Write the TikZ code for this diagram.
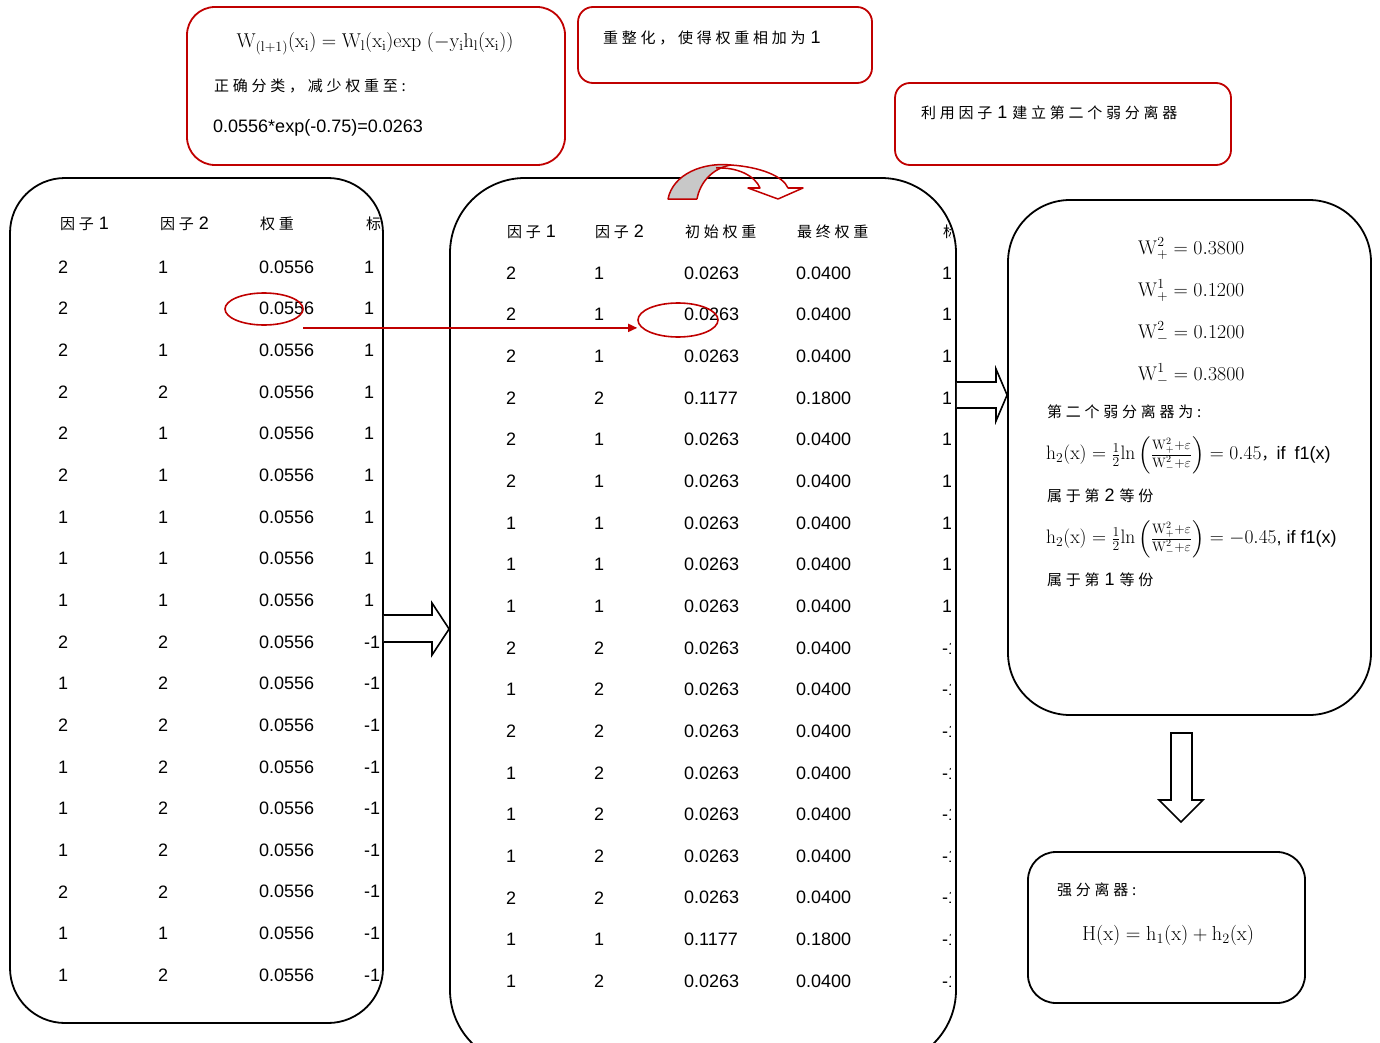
\RequirePackage{fix-cm}
\documentclass[tikz,border=0pt]{standalone}
\usepackage{amsmath}
\usepackage[no-math]{fontspec}
\setmainfont{Liberation Sans}
\newfontfamily\cjk[LetterSpace=25]{Noto Sans CJK SC}
\usetikzlibrary{shapes.geometric,arrows.meta,calc}
\definecolor{boxred}{RGB}{192,0,0}
\definecolor{crescent}{RGB}{200,200,200}
\tikzset{
  blackbox/.style={draw=black, line width=1.8pt, inner sep=0pt},
  redbox/.style={draw=boxred, line width=1.8pt, inner sep=0pt},
  cell/.style={anchor=west, inner sep=0pt},
  label/.style={anchor=west, inner sep=0pt},
  blockarrow/.style={draw=black, line width=1.6pt, fill=white},
  marker/.style={ellipse, draw=boxred, line width=1.6pt, inner sep=0pt},
  cn/.style={font=\fontsize{15}{18}\selectfont\cjk},
}
\newcommand{\rmm}[1]{\mathrm{#1}}
\newcommand{\zh}[1]{{\fontsize{15}{18}\selectfont\cjk #1}}
\newcommand{\hfrac}{\rmm{h}_2(\rmm{x}) = \tfrac{1}{2}\rmm{ln}\left(\tfrac{\rmm{W}^2_+ +\varepsilon}{\rmm{W}^2_- +\varepsilon}\right)}
\begin{document}
\begin{tikzpicture}[x=1pt, y=-1pt, font=\fontsize{18}{21}\selectfont]
\useasboundingbox (0,0) rectangle (1380,1043);
\clip (0,0) rectangle (1380,1043);

% ---- red note boxes along the top ----
\node[redbox, rounded corners=28pt, minimum width=378pt, minimum height=158pt] (noteA) at (376,86) {};
\node[anchor=center, inner sep=0pt, font=\fontsize{20}{24}\selectfont] (upd) at (375,44)
  {$\rmm{W}_{(\rmm{l}+1)}(\rmm{x}_\rmm{i}) = \rmm{W}_\rmm{l}(\rmm{x}_\rmm{i})\rmm{exp}\ (-\rmm{y}_\rmm{i}\rmm{h}_\rmm{l}(\rmm{x}_\rmm{i}))$};
\node[label, cn] (noteA2) at (214,86) {正确分类，减少权重至:};
\node[label] (noteA3) at (213,128) {0.0556*exp(-0.75)=0.0263};

\node[redbox, rounded corners=15pt, minimum width=294pt, minimum height=76pt] (noteB) at (725,45) {};
\node[label] (noteB1) at (603,38) {\zh{重整化，使得权重相加为} 1};

\node[redbox, rounded corners=15pt, minimum width=336pt, minimum height=82pt] (noteC) at (1063,124) {};
\node[label] (noteC1) at (921,113) {\zh{利用因子} 1 \zh{建立第二个弱分离器}};

% ---- left table: initial weights ----
\begin{scope}
  \clip (0,150) rectangle (382,1043);
  \node[cell] (lh1) at (60,224) {\zh{因子} 1};
  \node[cell] (lh2) at (160,224) {\zh{因子} 2};
  \node[cell, cn] (lh3) at (260,224) {权重};
  \node[cell, cn] (lh4) at (366,224) {标签};
  \foreach \a/\b/\c/\d [count=\i from 0] in {
    2/1/0.0556/1, 2/1/0.0556/1, 2/1/0.0556/1, 2/2/0.0556/1, 2/1/0.0556/1,
    2/1/0.0556/1, 1/1/0.0556/1, 1/1/0.0556/1, 1/1/0.0556/1, 2/2/0.0556/-1,
    1/2/0.0556/-1, 2/2/0.0556/-1, 1/2/0.0556/-1, 1/2/0.0556/-1, 1/2/0.0556/-1,
    2/2/0.0556/-1, 1/1/0.0556/-1, 1/2/0.0556/-1} {
    \pgfmathsetmacro{\yy}{267+41.65*\i}
    \node[cell] (la\i) at (58,\yy) {\a};
    \node[cell] (lb\i) at (158,\yy) {\b};
    \node[cell] (lc\i) at (259,\yy) {\c};
    \node[cell] (ld\i) at (364,\yy) {\d};
  }
\end{scope}
\node[blackbox, rounded corners=55pt, minimum width=373pt, minimum height=845pt] (L) at (196.5,600.5) {};

% ---- middle table: initial and normalised weights ----
\begin{scope}
  \clip (0,150) rectangle (950,1043);
  \node[cell] (mh1) at (507,232) {\zh{因子} 1};
  \node[cell] (mh2) at (595,232) {\zh{因子} 2};
  \node[cell, cn] (mh3) at (685,232) {初始权重};
  \node[cell, cn] (mh4) at (797,232) {最终权重};
  \node[cell, cn] (mh5) at (943,232) {标签};
  \foreach \a/\b/\c/\d/\e [count=\i from 0] in {
    2/1/0.0263/0.0400/1, 2/1/0.0263/0.0400/1, 2/1/0.0263/0.0400/1,
    2/2/0.1177/0.1800/1, 2/1/0.0263/0.0400/1, 2/1/0.0263/0.0400/1,
    1/1/0.0263/0.0400/1, 1/1/0.0263/0.0400/1, 1/1/0.0263/0.0400/1,
    2/2/0.0263/0.0400/-1, 1/2/0.0263/0.0400/-1, 2/2/0.0263/0.0400/-1,
    1/2/0.0263/0.0400/-1, 1/2/0.0263/0.0400/-1, 1/2/0.0263/0.0400/-1,
    2/2/0.0263/0.0400/-1, 1/1/0.1177/0.1800/-1, 1/2/0.0263/0.0400/-1} {
    \pgfmathsetmacro{\yy}{273+41.65*\i}
    \node[cell] (ma\i) at (506,\yy) {\a};
    \node[cell] (mb\i) at (594,\yy) {\b};
    \node[cell] (mc\i) at (684,\yy) {\c};
    \node[cell] (md\i) at (796,\yy) {\d};
    \node[cell] (me\i) at (942,\yy) {\e};
  }
\end{scope}
\node[blackbox, rounded corners=75pt, minimum width=506pt, minimum height=887pt] (M) at (703,621.5) {};

% ---- curved arrow over the middle table ----
\fill[crescent] (668,199) .. controls (673,174) and (703,162) .. (731,165)
  .. controls (713,168) and (700,182) .. (697,199) -- cycle;
\draw[boxred, line width=1.5pt, line join=round]
  (697,199) -- (668,199) .. controls (673,174) and (703,162) .. (731,165)
  .. controls (760,167) and (783,176) .. (788,188) -- (803,188) -- (778,199)
  -- (748,188) -- (760,188) .. controls (755,176) and (738,167) .. (716,168);
\draw[boxred, line width=1.5pt] (697,199) .. controls (700,182) and (713,168) .. (731,165);

% ---- highlighted weight and the red link ----
\node[marker, minimum width=78pt, minimum height=32pt] (e1) at (264,309) {};
\node[marker, minimum width=80pt, minimum height=34pt] (e2) at (678,320) {};
\coordinate (rs) at ([shift={(11,7)}]e1.south east);
\draw[boxred, line width=1.6pt, -{Triangle[length=9pt,width=8pt]}] (rs) -- (rs -| e2.west);

% ---- right panel: second weak classifier ----
\node[blackbox, rounded corners=62pt, minimum width=363pt, minimum height=515pt] (R) at (1189.5,457.5) {};
\begin{scope}[every node/.style={label, font=\fontsize{19.8}{23}\selectfont}]
  \node (w1) at (1138,249) {$\rmm{W}^{2}_{+} = 0.3800$};
  \node (w2) at (1138,291) {$\rmm{W}^{1}_{+} = 0.1200$};
  \node (w3) at (1138,333) {$\rmm{W}^{2}_{-} = 0.1200$};
  \node (w4) at (1138,375) {$\rmm{W}^{1}_{-} = 0.3800$};
\end{scope}
\node[label, cn] (r5) at (1047,412) {第二个弱分离器为:};
\node[label] (r6) at (1046,455)
  {{\fontsize{19.5}{23}\selectfont$\hfrac = 0.45$}{\fontsize{15}{18}\selectfont\cjk ，}if\enspace f1(x)};
\node[label] (r7) at (1047,496) {\zh{属于第} 2 \zh{等份}};
\node[label] (r8) at (1046,539)
  {{\fontsize{19.5}{23}\selectfont$\hfrac = -0.45$}, if f1(x)};
\node[label] (r9) at (1047,580) {\zh{属于第} 1 \zh{等份}};

% ---- strong classifier ----
\node[blackbox, rounded corners=28pt, minimum width=277pt, minimum height=151pt] (S) at (1166.5,927.5) {};
\node[label, cn] (s1) at (1057,890) {强分离器:};
\node[inner sep=0pt, font=\fontsize{20.3}{24}\selectfont] (s2) at (1168,935)
  {$\rmm{H}(\rmm{x}) = \rmm{h}_1(\rmm{x}) + \rmm{h}_2(\rmm{x})$};

% ---- block arrows between the panels ----
\draw[blockarrow] (L.east |- 0,615) -- (432,615) -- (432,603) -- (M.west |- 0,629)
  -- (432,655) -- (432,642) -- (L.east |- 0,642);
\draw[blockarrow] (M.east |- 0,382) -- (996,382) -- (996,369) -- (R.west |- 0,395)
  -- (996,421) -- (996,408) -- (M.east |- 0,408);
\draw[blockarrow] (1171,733) -- (1192,733) -- (1192,800) -- (1203,800)
  -- (1181,822) -- (1159,800) -- (1171,800) -- cycle;
\end{tikzpicture}
\end{document}
